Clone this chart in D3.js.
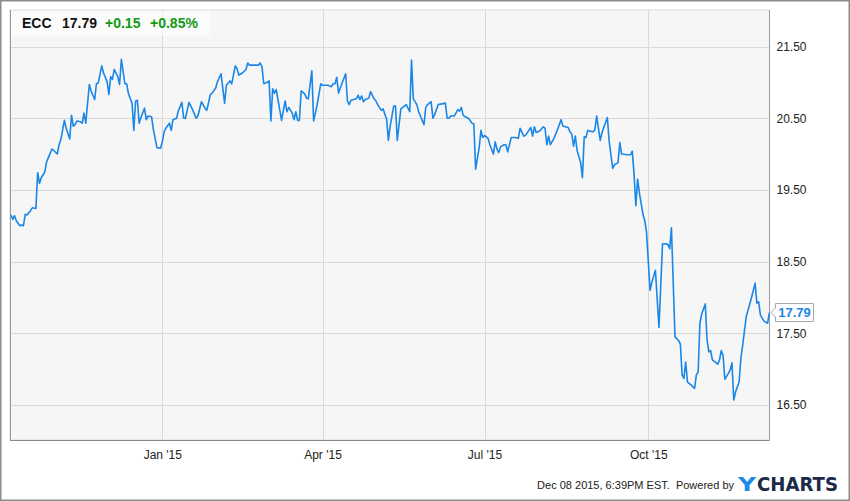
<!DOCTYPE html>
<html><head><meta charset="utf-8">
<script src="https://cdn.jsdelivr.net/npm/d3@7"></script>
<style>html,body{margin:0;padding:0;background:#fff;}svg{display:block;font-family:"Liberation Sans",Arial,sans-serif;}</style>
</head><body>
<script>
const ticker = "ECC";
const lastPrice = "17.79";
const change = "+0.15";
const changePct = "+0.85%";
const footerText = "Dec 08 2015, 6:39PM EST.  Powered by";
const xTickDates = ["2015-01-01","2015-04-01","2015-07-01","2015-10-01"];
const xTickLabels = ["Jan '15","Apr '15","Jul '15","Oct '15"];
const yTicks = [16.5,17.5,18.5,19.5,20.5,21.5];
const dates = ["2014-10-08","2014-10-09","2014-10-10","2014-10-11","2014-10-13","2014-10-14","2014-10-15","2014-10-16","2014-10-17","2014-10-19","2014-10-20","2014-10-22","2014-10-23","2014-10-24","2014-10-25","2014-10-27","2014-10-28","2014-10-29","2014-10-31","2014-11-01","2014-11-03","2014-11-04","2014-11-05","2014-11-07","2014-11-08","2014-11-10","2014-11-11","2014-11-12","2014-11-13","2014-11-14","2014-11-16","2014-11-17","2014-11-18","2014-11-19","2014-11-21","2014-11-22","2014-11-24","2014-11-25","2014-11-26","2014-11-28","2014-11-29","2014-12-01","2014-12-02","2014-12-03","2014-12-04","2014-12-05","2014-12-07","2014-12-08","2014-12-09","2014-12-11","2014-12-12","2014-12-13","2014-12-15","2014-12-16","2014-12-17","2014-12-18","2014-12-19","2014-12-20","2014-12-22","2014-12-23","2014-12-24","2014-12-26","2014-12-27","2014-12-29","2014-12-31","2015-01-01","2015-01-02","2015-01-03","2015-01-05","2015-01-06","2015-01-07","2015-01-09","2015-01-10","2015-01-12","2015-01-13","2015-01-14","2015-01-16","2015-01-18","2015-01-20","2015-01-21","2015-01-23","2015-01-25","2015-01-26","2015-01-28","2015-01-29","2015-01-31","2015-02-01","2015-02-03","2015-02-05","2015-02-06","2015-02-08","2015-02-09","2015-02-11","2015-02-12","2015-02-13","2015-02-15","2015-02-17","2015-02-18","2015-02-19","2015-02-21","2015-02-24","2015-02-25","2015-02-26","2015-02-27","2015-03-01","2015-03-02","2015-03-03","2015-03-04","2015-03-05","2015-03-06","2015-03-09","2015-03-11","2015-03-12","2015-03-13","2015-03-15","2015-03-16","2015-03-17","2015-03-18","2015-03-19","2015-03-20","2015-03-22","2015-03-23","2015-03-24","2015-03-26","2015-03-27","2015-03-29","2015-03-31","2015-04-01","2015-04-04","2015-04-06","2015-04-07","2015-04-08","2015-04-09","2015-04-10","2015-04-12","2015-04-14","2015-04-15","2015-04-16","2015-04-17","2015-04-20","2015-04-21","2015-04-22","2015-04-23","2015-04-24","2015-04-25","2015-04-27","2015-04-28","2015-04-30","2015-05-01","2015-05-02","2015-05-04","2015-05-05","2015-05-07","2015-05-08","2015-05-09","2015-05-11","2015-05-12","2015-05-13","2015-05-15","2015-05-17","2015-05-18","2015-05-20","2015-05-21","2015-05-22","2015-05-24","2015-05-25","2015-05-27","2015-05-28","2015-05-29","2015-05-30","2015-06-01","2015-06-02","2015-06-03","2015-06-05","2015-06-07","2015-06-09","2015-06-10","2015-06-11","2015-06-12","2015-06-14","2015-06-16","2015-06-17","2015-06-18","2015-06-19","2015-06-21","2015-06-22","2015-06-24","2015-06-25","2015-06-26","2015-06-28","2015-06-29","2015-06-30","2015-07-01","2015-07-03","2015-07-04","2015-07-06","2015-07-07","2015-07-08","2015-07-09","2015-07-10","2015-07-12","2015-07-13","2015-07-14","2015-07-16","2015-07-18","2015-07-20","2015-07-21","2015-07-23","2015-07-24","2015-07-27","2015-07-28","2015-07-29","2015-07-30","2015-08-01","2015-08-03","2015-08-04","2015-08-05","2015-08-06","2015-08-07","2015-08-09","2015-08-11","2015-08-13","2015-08-14","2015-08-17","2015-08-18","2015-08-19","2015-08-20","2015-08-21","2015-08-22","2015-08-24","2015-08-25","2015-08-26","2015-08-27","2015-08-28","2015-08-29","2015-08-31","2015-09-01","2015-09-02","2015-09-04","2015-09-05","2015-09-08","2015-09-09","2015-09-11","2015-09-12","2015-09-14","2015-09-15","2015-09-16","2015-09-19","2015-09-21","2015-09-22","2015-09-23","2015-09-24","2015-09-25","2015-09-26","2015-09-28","2015-09-29","2015-09-30","2015-10-02","2015-10-03","2015-10-05","2015-10-07","2015-10-09","2015-10-10","2015-10-12","2015-10-13","2015-10-14","2015-10-16","2015-10-18","2015-10-19","2015-10-20","2015-10-21","2015-10-22","2015-10-23","2015-10-25","2015-10-27","2015-10-28","2015-10-29","2015-10-30","2015-10-31","2015-11-02","2015-11-03","2015-11-04","2015-11-05","2015-11-06","2015-11-08","2015-11-09","2015-11-10","2015-11-11","2015-11-12","2015-11-13","2015-11-15","2015-11-16","2015-11-17","2015-11-18","2015-11-19","2015-11-21","2015-11-22","2015-11-23","2015-11-25","2015-11-26","2015-11-28","2015-11-30","2015-12-01","2015-12-02","2015-12-03","2015-12-05","2015-12-07","2015-12-08"];
const prices = [19.15,19.09,19.14,19.07,19.00,19.01,19.00,19.16,19.15,19.21,19.25,19.24,19.74,19.59,19.67,19.75,19.89,19.95,20.07,20.05,20.00,20.13,20.20,20.47,20.36,20.21,20.54,20.39,20.41,20.46,20.45,20.43,20.57,20.43,20.97,20.88,20.76,20.98,20.99,21.23,21.13,21.01,20.83,21.08,21.04,21.18,21.08,20.97,21.32,20.98,20.98,20.84,20.71,20.33,20.74,20.75,20.43,20.51,20.64,20.48,20.53,20.52,20.34,20.09,20.08,20.17,20.31,20.36,20.43,20.33,20.48,20.50,20.60,20.72,20.50,20.50,20.72,20.62,20.50,20.53,20.73,20.64,20.61,20.83,20.85,20.92,21.01,21.12,20.71,20.96,21.02,20.98,21.23,21.19,21.10,21.13,21.18,21.27,21.24,21.24,21.24,21.27,21.22,20.98,21.00,21.02,20.46,20.91,20.85,20.90,20.47,20.74,20.59,20.65,20.57,20.48,20.59,20.47,20.47,20.88,20.84,20.78,20.77,21.16,20.46,20.69,20.98,20.96,20.96,20.94,20.98,20.98,21.07,20.85,20.99,21.12,20.74,20.69,20.75,20.77,20.82,20.76,20.81,20.73,20.76,20.78,20.87,20.77,20.74,20.69,20.61,20.63,20.49,20.19,20.39,20.67,20.67,20.19,20.63,20.67,20.69,20.59,21.31,20.77,20.69,20.59,20.47,20.41,20.65,20.69,20.73,20.50,20.55,20.69,20.70,20.71,20.50,20.50,20.53,20.53,20.62,20.60,20.65,20.54,20.51,20.50,20.43,20.42,19.79,20.09,20.33,20.23,20.26,20.22,20.13,20.00,20.17,20.07,20.02,20.10,20.13,20.13,20.03,20.23,20.23,20.22,20.36,20.25,20.26,20.37,20.25,20.38,20.30,20.32,20.38,20.36,20.13,20.25,20.13,20.22,20.34,20.48,20.39,20.37,20.31,20.28,20.11,20.25,20.05,19.88,19.67,20.24,20.23,20.33,20.32,20.31,20.34,20.53,20.19,20.30,20.51,20.18,19.80,19.85,19.88,20.16,20.00,19.99,19.99,20.04,19.72,19.28,19.65,19.46,19.16,19.07,18.91,18.10,18.21,18.38,17.58,18.75,18.75,18.74,18.68,18.97,17.45,17.40,17.35,16.92,16.87,17.10,16.82,16.78,16.73,16.92,16.96,17.64,17.77,17.91,17.41,17.24,17.26,17.13,17.09,17.07,17.13,17.26,17.19,16.86,16.94,16.99,17.09,16.57,16.68,16.82,17.15,17.33,17.73,17.82,18.00,18.20,17.92,17.94,17.75,17.67,17.64,17.79];

const W = 850, H = 501;
const plot = {l: 10, t: 10, r: 769.5, b: 440};
const parse = d3.timeParse("%Y-%m-%d");
const data = dates.map((d, i) => ({date: parse(d), value: prices[i]}));

const x = d3.scaleTime()
  .domain([new Date(2014, 9, 7, 10, 48), new Date(2015, 11, 8, 2, 0)])
  .range([plot.l, plot.r]);
const y = d3.scaleLinear()
  .domain([16.5 - 35/71.7, 16.5 + 395/71.7])
  .range([plot.b, plot.t]);

const svg = d3.select("body").append("svg").attr("width", W).attr("height", H);

// outer frame
svg.append("rect").attr("x", 0.75).attr("y", 0.75).attr("width", W - 1.5).attr("height", H - 1.5)
  .attr("fill", "#fff").attr("stroke", "#8c8c8c").attr("stroke-width", 1.5);

// plot background
svg.append("rect").attr("x", plot.l).attr("y", plot.t).attr("width", plot.r - plot.l).attr("height", plot.b - plot.t)
  .attr("fill", "#f6f6f6").attr("stroke", "#dcdcdc").attr("stroke-width", 1);

// horizontal gridlines
svg.append("g").selectAll("line").data(yTicks).join("line")
  .attr("x1", plot.l).attr("x2", plot.r)
  .attr("y1", d => Math.round(y(d)) + 0.5).attr("y2", d => Math.round(y(d)) + 0.5)
  .attr("stroke", "#d9d9d9").attr("stroke-width", 1);

// vertical gridlines
const xTicks = xTickDates.map(parse);
svg.append("g").selectAll("line").data(xTicks).join("line")
  .attr("x1", d => Math.round(x(d)) + 0.5).attr("x2", d => Math.round(x(d)) + 0.5)
  .attr("y1", plot.t).attr("y2", plot.b)
  .attr("stroke", "#d9d9d9").attr("stroke-width", 1);

// axes borders
svg.append("line").attr("x1", plot.l + 0.5).attr("x2", plot.l + 0.5).attr("y1", plot.t).attr("y2", plot.b)
  .attr("stroke", "#9a9a9a");
svg.append("line").attr("x1", plot.r).attr("x2", plot.r).attr("y1", plot.t).attr("y2", plot.b + 0.5)
  .attr("stroke", "#9a9a9a");
svg.append("line").attr("x1", plot.l).attr("x2", plot.r).attr("y1", plot.b + 0.5).attr("y2", plot.b + 0.5)
  .attr("stroke", "#8a8a8a");

// right axis labels
const yAxis = d3.axisRight(y).tickValues(yTicks).tickFormat(d3.format(".2f")).tickSize(0).tickPadding(7);
const gy = svg.append("g").attr("transform", `translate(${plot.r},0)`).call(yAxis);
gy.select(".domain").remove();
gy.selectAll("text").attr("font-size", 12).attr("fill", "#222").attr("font-family", "Liberation Sans, Arial, sans-serif");

// bottom axis labels
const xAxis = d3.axisBottom(x).tickValues(xTicks).tickFormat((d, i) => xTickLabels[i]).tickSize(0).tickPadding(10);
const gx = svg.append("g").attr("transform", `translate(0,${plot.b})`).call(xAxis);
gx.select(".domain").remove();
gx.selectAll("text").attr("font-size", 12).attr("fill", "#222").attr("font-family", "Liberation Sans, Arial, sans-serif");

// price line
const line = d3.line().x(d => x(d.date)).y(d => y(d.value));
svg.append("path").datum(data).attr("d", line)
  .attr("fill", "none").attr("stroke", "#1a86e6").attr("stroke-width", 1.6)
  .attr("stroke-linejoin", "round");

// header box
svg.append("rect").attr("x", 11).attr("y", 11).attr("width", 199).attr("height", 25)
  .attr("fill", "#ffffff").attr("fill-opacity", 0.55);
const hdr = svg.append("text").attr("y", 28).attr("font-size", 14).attr("font-weight", "bold");
hdr.append("tspan").attr("x", 22).attr("fill", "#111").text(ticker);
hdr.append("tspan").attr("x", 62).attr("fill", "#111").text(lastPrice);
hdr.append("tspan").attr("x", 105).attr("fill", "#129a12").text(change);
hdr.append("tspan").attr("x", 150).attr("fill", "#129a12").text(changePct);

// last price flag
const last = data[data.length - 1];
const ly = y(last.value);
const fx = 771, bx = 775.5, bw = 38, bh = 18;
svg.append("path")
  .attr("d", `M${fx},${ly} L${bx},${ly - 4.5} L${bx},${ly - bh/2} L${bx + bw},${ly - bh/2} L${bx + bw},${ly + bh/2} L${bx},${ly + bh/2} L${bx},${ly + 4.5} Z`)
  .attr("fill", "#fff").attr("stroke", "#a8a8a8").attr("stroke-width", 1);
svg.append("text").attr("x", bx + bw/2).attr("y", ly + 4.6).attr("text-anchor", "middle")
  .attr("font-size", 13).attr("font-weight", "bold").attr("fill", "#1a86e6")
  .text(d3.format(".2f")(last.value));

// footer
svg.append("text").attr("x", 734).attr("y", 489).attr("text-anchor", "end")
  .attr("font-size", 11).attr("fill", "#222").style("white-space", "pre").text(footerText);
svg.append("text").attr("x", 738).attr("y", 491).attr("font-size", 19).attr("font-weight", "bold")
  .attr("font-family", "DejaVu Sans, Liberation Sans, sans-serif").attr("fill", "#1a8ae6")
  .attr("textLength", 18).attr("lengthAdjust", "spacingAndGlyphs").text("Y");
svg.append("text").attr("x", 757).attr("y", 491).attr("font-size", 19).attr("font-weight", "bold")
  .attr("font-family", "DejaVu Sans, Liberation Sans, sans-serif").attr("fill", "#1b2a48")
  .attr("textLength", 81).attr("lengthAdjust", "spacingAndGlyphs").text("CHARTS");
</script>
</body></html>
